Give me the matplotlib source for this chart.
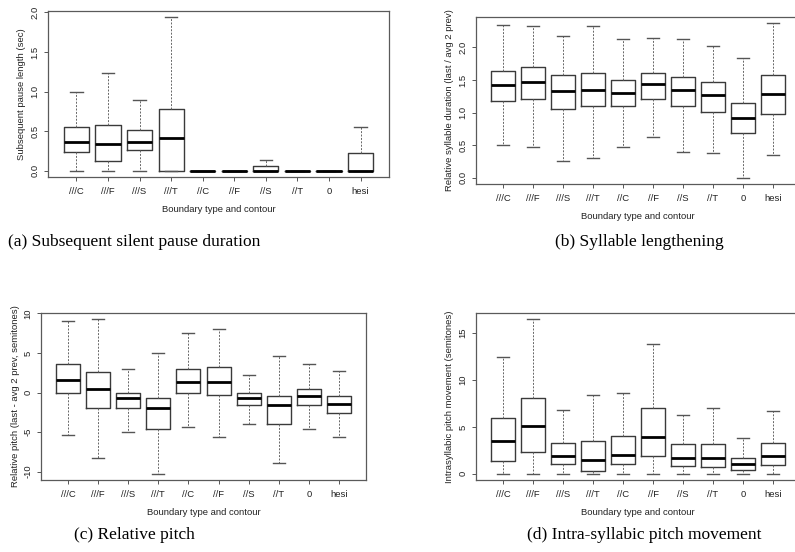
import numpy as np
import matplotlib
matplotlib.use("Agg")
import matplotlib.pyplot as plt

plt.rcParams['font.family'] = ['Liberation Sans', 'DejaVu Sans']

categories = ["///C", "///F", "///S", "///T", "//C", "//F", "//S", "//T", "0", "hesi"]

# box stats: lower whisker, q1, median, q3, upper whisker
pause_lo  = [0, 0, 0, 0, 0, 0, 0, 0, 0, 0]
pause_q1  = [0.24, 0.13, 0.265, 0, 0, 0, 0, 0, 0, 0]
pause_med = [0.37, 0.34, 0.37, 0.42, 0, 0, 0, 0, 0, 0]
pause_q3  = [0.55, 0.58, 0.52, 0.78, 0, 0, 0.06, 0, 0, 0.23]
pause_hi  = [1.00, 1.235, 0.89, 1.94, 0, 0, 0.14, 0, 0, 0.55]

dur_lo  = [0.505, 0.47, 0.255, 0.31, 0.47, 0.62, 0.40, 0.38, 0.0, 0.35]
dur_q1  = [1.18, 1.21, 1.056, 1.10, 1.10, 1.21, 1.10, 1.01, 0.68, 0.975]
dur_med = [1.42, 1.475, 1.33, 1.35, 1.30, 1.44, 1.35, 1.27, 0.91, 1.285]
dur_q3  = [1.64, 1.70, 1.58, 1.61, 1.505, 1.60, 1.55, 1.47, 1.14, 1.58]
dur_hi  = [2.34, 2.32, 2.18, 2.32, 2.12, 2.15, 2.13, 2.025, 1.84, 2.37]

pitch_lo  = [-5.43, -8.3, -4.97, -10.27, -4.42, -5.64, -3.92, -8.93, -4.63, -5.64]
pitch_q1  = [0, -1.98, -1.98, -4.63, 0, -0.34, -1.6, -3.92, -1.6, -2.6]
pitch_med = [1.64, 0.5, -0.72, -1.98, 1.3, 1.3, -0.72, -1.6, -0.5, -1.47]
pitch_q3  = [3.54, 2.65, 0, -0.72, 3.03, 3.28, 0, -0.5, 0.5, -0.5]
pitch_hi  = [8.97, 9.26, 3.03, 4.97, 7.5, 8.0, 2.27, 4.63, 3.62, 2.7]

mov_lo  = [0, 0, 0, 0, 0, 0, 0, 0, 0, 0]
mov_q1  = [1.42, 2.28, 1.03, 0.25, 1.0, 1.92, 0.85, 0.75, 0.39, 0.92]
mov_med = [3.45, 5.08, 1.92, 1.49, 2.06, 3.95, 1.74, 1.74, 1.0, 1.88]
mov_q3  = [5.94, 8.14, 3.34, 3.45, 4.02, 7.0, 3.13, 3.2, 1.74, 3.27]
mov_hi  = [12.44, 16.5, 6.79, 8.39, 8.6, 13.9, 6.26, 7.0, 3.8, 6.65]


def r_boxplot(ax, lo, q1, med, q3, hi, ylabel, yticks, yfmt):
    stats = []
    for i in range(len(categories)):
        stats.append(dict(whislo=lo[i], q1=q1[i], med=med[i], q3=q3[i],
                          whishi=hi[i], fliers=[], label=categories[i]))
    pos = np.arange(1, len(categories) + 1)
    ax.bxp(stats, positions=pos, widths=0.8, capwidths=0.4, showfliers=False,
           boxprops=dict(color='#3a3a3a', linewidth=1.0),
           whiskerprops=dict(color='#666666', linewidth=0.7, linestyle=(0, (2, 1.5))),
           capprops=dict(color='#555555', linewidth=1.0),
           medianprops=dict(color='black', linewidth=2.0, solid_capstyle='butt'))
    # R style axis limits: 4% padding
    ax.set_xlim(0.1, len(categories) + 0.9)
    ymin, ymax = min(lo), max(hi)
    pad = 0.04 * (ymax - ymin)
    ax.set_ylim(ymin - pad, ymax + pad)
    ax.set_yticks(yticks)
    ax.set_yticklabels([yfmt.format(v) for v in yticks], rotation=90, va='center')
    ax.set_xticks(pos)
    ax.set_xticklabels(categories)
    ax.tick_params(labelsize=6.8, length=3, width=0.7, color='#555555', pad=4,
                   labelcolor='#222222')
    ax.tick_params(axis='y', pad=3)
    for s in ax.spines.values():
        s.set_color('#5a5a5a')
        s.set_linewidth(0.9)
    ax.set_xlabel("Boundary type and contour", fontsize=6.8, color='#222222', labelpad=7)
    ax.set_ylabel(ylabel, fontsize=6.8, color='#222222', labelpad=3)


fig = plt.figure(figsize=(7.95, 5.52), dpi=100)
W, H = 795.0, 552.0

def add_axes(left, top, right, bottom):
    return fig.add_axes([left / W, 1 - bottom / H, (right - left) / W, (bottom - top) / H])

ax_a = add_axes(48, 11, 389, 177)
ax_b = add_axes(476, 17, 800, 184)
ax_c = add_axes(41, 313, 366, 480)
ax_d = add_axes(476, 313, 800, 480)

r_boxplot(ax_a, pause_lo, pause_q1, pause_med, pause_q3, pause_hi,
          "Subsequent pause length (sec)", [0, 0.5, 1.0, 1.5, 2.0], "{:.1f}")
r_boxplot(ax_b, dur_lo, dur_q1, dur_med, dur_q3, dur_hi,
          "Relative syllable duration (last / avg 2 prev)", [0, 0.5, 1.0, 1.5, 2.0], "{:.1f}")
r_boxplot(ax_c, pitch_lo, pitch_q1, pitch_med, pitch_q3, pitch_hi,
          "Relative pitch (last - avg 2 prev, semitones)", [-10, -5, 0, 5, 10], "{:d}")
r_boxplot(ax_d, mov_lo, mov_q1, mov_med, mov_q3, mov_hi,
          "Intrasyllabic pitch movement (semitones)", [0, 5, 10, 15], "{:d}")

cap = dict(fontsize=12.5, family=['Liberation Serif', 'DejaVu Serif'], va='center')
fig.text(134 / W, 1 - 242 / H, "(a) Subsequent silent pause duration", ha='center', **cap)
fig.text(639 / W, 1 - 242 / H, "(b) Syllable lengthening", ha='center', **cap)
fig.text(134 / W, 1 - 535 / H, "(c) Relative pitch", ha='center', **cap)
fig.text(527 / W, 1 - 535 / H, "(d) Intra-syllabic pitch movement", ha='left', **cap)

fig.savefig("out.png", dpi=100)
